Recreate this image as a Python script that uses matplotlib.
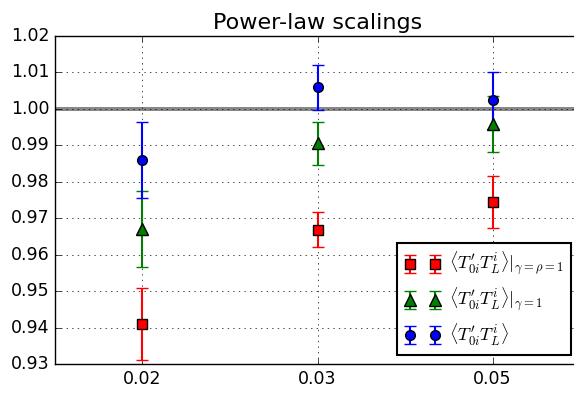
import matplotlib.pyplot as plt
import numpy as np

plt.style.use('classic')

# kappa values (plotted at evenly spaced positions)
kappa = ['0.02', '0.03', '0.05']

# <T'_0i T^i_L>|_{gamma=rho=1}
red_val = [0.9410, 0.9669, 0.9745]
red_err = [0.0099, 0.0049, 0.0072]

# <T'_0i T^i_L>|_{gamma=1}
green_val = [0.9670, 0.9906, 0.9958]
green_err = [0.0105, 0.0059, 0.0076]

# <T'_0i T^i_L>
blue_val = [0.9860, 1.0059, 1.0024]
blue_err = [0.0105, 0.0062, 0.0078]

fig = plt.figure(figsize=(5.74, 4.0), dpi=100, facecolor='white')
ax = fig.add_axes([0.0958, 0.09, 0.9147, 0.82])

pos = np.arange(len(kappa))

ax.axhspan(0.99935, 1.00065, color='#888888', lw=0, zorder=1)

ax.errorbar(pos, red_val, yerr=red_err, fmt='s', color='red', ecolor='red',
            mec='black', ms=7, capsize=4, elinewidth=1.5, mew=1,
            label=r'$\langle T^{\prime}_{0i}T^{i}_{L}\rangle|_{\gamma=\rho=1}$', zorder=3)
ax.errorbar(pos, green_val, yerr=green_err, fmt='^', color='green', ecolor='green',
            mec='black', ms=8, capsize=4, elinewidth=1.5, mew=1,
            label=r'$\langle T^{\prime}_{0i}T^{i}_{L}\rangle|_{\gamma=1}$', zorder=3)
ax.errorbar(pos, blue_val, yerr=blue_err, fmt='o', color='blue', ecolor='blue',
            mec='black', ms=7, capsize=4, elinewidth=1.5, mew=1,
            label=r'$\langle T^{\prime}_{0i}T^{i}_{L}\rangle$', zorder=3)

ax.set_xlim(-0.5, 2.5)
ax.set_ylim(0.93, 1.02)
ax.set_xticks(pos)
ax.set_xticklabels(kappa, fontsize=12.5)
yt = np.arange(0.93, 1.0201, 0.01)
ax.set_yticks(yt)
ax.set_yticklabels(['%.2f' % v for v in yt], fontsize=12.5)
ax.grid(True)
ax.set_axisbelow(False)

ax.set_title('Power-law scalings', fontsize=16)
ax.set_xlabel(r'$\kappa$', fontsize=12.5)

leg = ax.legend(loc='lower right', numpoints=2, fontsize=13, labelspacing=0.42,
                handletextpad=0.5)
leg.get_frame().set_linewidth(1.5)

fig.savefig('out.png', dpi=100, facecolor='white')
